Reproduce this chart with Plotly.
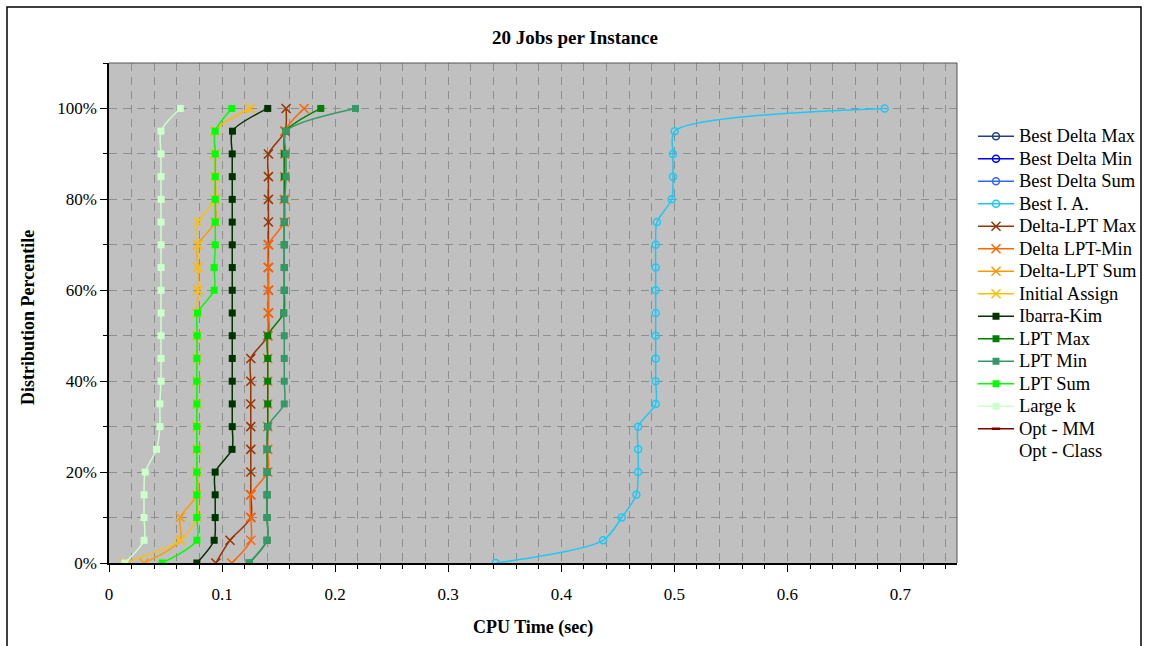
import plotly.graph_objects as go

# ---------------- data ----------------
percentiles = [0.00, 0.05, 0.10, 0.15, 0.20, 0.25, 0.30, 0.35, 0.40, 0.45, 0.50,
               0.55, 0.60, 0.65, 0.70, 0.75, 0.80, 0.85, 0.90, 0.95, 1.00]

series_names = ["Best Delta Max", "Best Delta Min", "Best Delta Sum", "Best I. A.",
                "Delta-LPT Max", "Delta LPT-Min", "Delta-LPT Sum", "Initial Assign",
                "Ibarra-Kim", "LPT Max", "LPT Min", "LPT Sum", "Large k",
                "Opt - MM", "Opt - Class"]

best_delta_max = []
best_delta_min = []
best_delta_sum = []
best_ia = [0.342, 0.437, 0.4535, 0.4664, 0.468, 0.468, 0.468, 0.4835, 0.4835, 0.4835, 0.4835,
           0.4835, 0.4835, 0.4835, 0.4835, 0.4846, 0.4976, 0.4988, 0.4988, 0.5003, 0.686]
delta_lpt_max = [0.0945, 0.107, 0.1254, 0.1254, 0.1254, 0.1254, 0.1254, 0.1254, 0.1254, 0.1254, 0.1404,
                 0.141, 0.141, 0.141, 0.141, 0.141, 0.141, 0.141, 0.141, 0.1557, 0.1566]
delta_lpt_min = [0.1086, 0.1254, 0.1254, 0.1254, 0.1404, 0.1404, 0.1404, 0.1404, 0.1404, 0.1404, 0.1404,
                 0.141, 0.141, 0.141, 0.141, 0.155, 0.155, 0.1555, 0.1555, 0.1555, 0.1725]
delta_lpt_sum = [0.031, 0.063, 0.063, 0.078, 0.078, 0.078, 0.078, 0.078, 0.078, 0.078, 0.078,
                 0.078, 0.0786, 0.0786, 0.0786, 0.094, 0.094, 0.094, 0.094, 0.094, 0.1248]
initial_assign = [0.013, 0.063, 0.078, 0.078, 0.078, 0.078, 0.078, 0.078, 0.078, 0.078, 0.078,
                  0.078, 0.0786, 0.0786, 0.0786, 0.0786, 0.094, 0.094, 0.094, 0.094, 0.1248]
ibarra_kim = [0.0777, 0.093, 0.0939, 0.0939, 0.0939, 0.1088, 0.109, 0.109, 0.109, 0.109, 0.109,
              0.109, 0.109, 0.109, 0.109, 0.109, 0.109, 0.109, 0.109, 0.1092, 0.1404]
lpt_max = [0.124, 0.1398, 0.1398, 0.1398, 0.1398, 0.1398, 0.1404, 0.1404, 0.1404, 0.1404, 0.1404,
           0.1545, 0.155, 0.155, 0.155, 0.155, 0.155, 0.155, 0.155, 0.1566, 0.1873]
lpt_min = [0.124, 0.1398, 0.1398, 0.1398, 0.1398, 0.1398, 0.1404, 0.155, 0.155, 0.155, 0.155,
           0.1545, 0.155, 0.155, 0.155, 0.155, 0.1555, 0.1566, 0.1566, 0.1566, 0.218]
lpt_sum = [0.047, 0.0777, 0.0777, 0.0777, 0.0777, 0.0777, 0.0777, 0.0777, 0.0777, 0.0777, 0.078,
           0.0783, 0.093, 0.093, 0.094, 0.094, 0.094, 0.094, 0.094, 0.0939, 0.1086]
large_k = [0.014, 0.031, 0.031, 0.031, 0.032, 0.042, 0.045, 0.045, 0.046, 0.046, 0.046,
           0.046, 0.046, 0.046, 0.046, 0.046, 0.046, 0.046, 0.046, 0.0459, 0.063]
opt_mm = []
opt_class = []

series_values = [best_delta_max, best_delta_min, best_delta_sum, best_ia,
                 delta_lpt_max, delta_lpt_min, delta_lpt_sum, initial_assign,
                 ibarra_kim, lpt_max, lpt_min, lpt_sum, large_k, opt_mm, opt_class]

x_tick_vals = [0, 0.1, 0.2, 0.3, 0.4, 0.5, 0.6, 0.7]
x_tick_text = ["0", "0.1", "0.2", "0.3", "0.4", "0.5", "0.6", "0.7"]
y_tick_vals = [0, 0.2, 0.4, 0.6, 0.8, 1.0]
y_tick_text = ["0%", "20%", "40%", "60%", "80%", "100%"]

# ---------------- styles ----------------
colors = ["#203f86", "#0000ff", "#3366ff", "#1ec8f5",
          "#993300", "#ff6600", "#ff9900", "#ffc000",
          "#003300", "#008000", "#339966", "#00ff00", "#ccffcc",
          "#800000", "rgba(0,0,0,0)"]
symbols = ["circle-open"] * 4 + ["x-thin-open"] * 4 + ["square"] * 5 + ["line-ew-open", "none"]

FONT = "Liberation Serif, Times New Roman, serif"

fig = go.Figure()
for name, vals, col, sym in zip(series_names, series_values, colors, symbols):
    xs = vals if vals else [None]
    ys = percentiles[:len(vals)] if vals else [None]
    if sym == "circle-open":
        marker = dict(symbol=sym, size=7, color=col, line=dict(color=col, width=1.5))
    elif sym == "x-thin-open":
        marker = dict(symbol=sym, size=9, color=col, line=dict(color=col, width=1.5))
    elif sym == "square":
        marker = dict(symbol=sym, size=7, color=col, line=dict(width=0))
    elif sym == "line-ew-open":
        marker = dict(symbol=sym, size=6, color=col, line=dict(color=col, width=2.5))
    else:
        marker = dict(size=1, color=col, line=dict(width=0))
    fig.add_trace(go.Scatter(
        x=xs, y=ys,
        name='<span style="font-size:18.5px">' + name + '</span>',
        mode="lines" if sym == "none" else "lines+markers",
        line=dict(color=col, width=1.5, shape="spline", smoothing=0.8),
        marker=marker,
    ))

# plot-area geometry (pixels)
L, R, T, B = 109, 957, 63, 563
W, H = R - L, B - T

def px(xp):
    return (xp - L) / W

def py(yp):
    return (B - yp) / H

GRIDC = "#8e8e8e"

fig.update_layout(
    width=1149, height=646,
    margin=dict(l=L, r=1149 - R, t=T, b=646 - B, pad=0, autoexpand=False),
    paper_bgcolor="white",
    plot_bgcolor="#c0c0c0",
    font=dict(family=FONT, size=16, color="black"),
    showlegend=True,
    legend=dict(
        x=px(973), y=py(120), xanchor="left", yanchor="top",
        font=dict(family=FONT, size=15, color="black"),
        bgcolor="rgba(0,0,0,0)", borderwidth=0,
        itemwidth=36, tracegroupgap=0,
    ),
    xaxis=dict(
        range=[0, 0.75], tickvals=x_tick_vals, ticktext=x_tick_text,
        ticks="outside", ticklen=7, tickcolor="black", tickwidth=1,
        ticklabelstandoff=8,
        showline=True, linecolor="black", linewidth=1.5,
        zeroline=False, tickfont=dict(family=FONT, size=17),
        showgrid=True, gridcolor=GRIDC, gridwidth=1, griddash="8px,6px",
        minor=dict(dtick=0.02, tick0=0, ticks="outside", ticklen=4, tickcolor="black",
                   showgrid=True, gridcolor=GRIDC, gridwidth=1, griddash="8px,6px"),
    ),
    yaxis=dict(
        range=[0, 1.1], tickvals=y_tick_vals, ticktext=y_tick_text,
        ticks="outside", ticklen=7, tickcolor="black", tickwidth=1,
        showline=True, linecolor="black", linewidth=1.5,
        zeroline=False, tickfont=dict(family=FONT, size=17),
        showgrid=True, gridcolor=GRIDC, gridwidth=1, griddash="8px,6px",
        minor=dict(dtick=0.1, tick0=0, ticks="outside", ticklen=4, tickcolor="black",
                   showgrid=True, gridcolor=GRIDC, gridwidth=1, griddash="8px,6px"),
    ),
    shapes=[
        dict(type="line", xref="paper", yref="paper", x0=0, x1=1, y0=1, y1=1,
             line=dict(color="#555555", width=1)),
        dict(type="line", xref="paper", yref="paper", x0=1, x1=1, y0=0, y1=1,
             line=dict(color="#555555", width=1)),
        dict(type="rect", xref="paper", yref="paper",
             x0=px(7), x1=px(1141), y0=py(660), y1=py(7),
             line=dict(color="black", width=1.5), fillcolor="rgba(0,0,0,0)"),
    ],
    annotations=[
        dict(text="<b>20 Jobs per Instance</b>", xref="paper", yref="paper",
             x=px(575), y=py(38), xanchor="center", yanchor="middle", showarrow=False,
             font=dict(family=FONT, size=19)),
        dict(text="<b>CPU Time (sec)</b>", xref="paper", yref="paper",
             x=px(533), y=py(627), xanchor="center", yanchor="middle", showarrow=False,
             font=dict(family=FONT, size=18)),
        dict(text="<b>Distribution Percentile</b>", xref="paper", yref="paper",
             x=px(28), y=py(318), xanchor="center", yanchor="middle", showarrow=False,
             textangle=-90, font=dict(family=FONT, size=18)),
    ],
)

fig.write_html("out.html")
